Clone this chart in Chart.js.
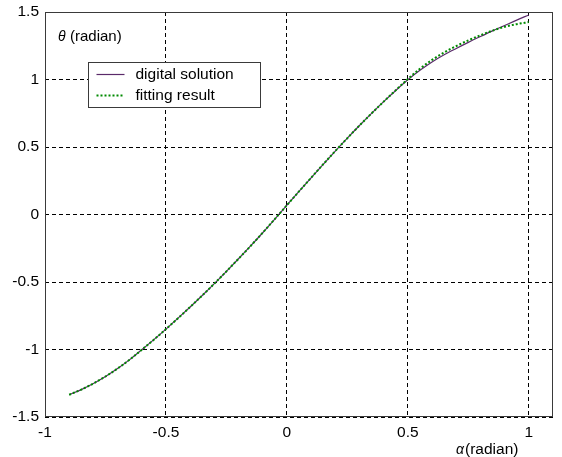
<!DOCTYPE html>
<html>
<head>
<meta charset="utf-8">
<script src="https://cdn.jsdelivr.net/npm/chart.js@4/dist/chart.umd.min.js"></script>
<style>
html,body{margin:0;padding:0;background:#fff;}
#wrap{position:relative;width:562px;height:457px;}
</style>
</head>
<body>
<div id="wrap"><canvas id="c" width="562" height="457"></canvas></div>
<script>
const alphaValues = [-0.9,-0.85,-0.8,-0.75,-0.7,-0.65,-0.6,-0.55,-0.5,-0.45,-0.4,-0.35,-0.3,-0.25,-0.2,-0.15,-0.1,-0.05,0,0.05,0.1,0.15,0.2,0.25,0.3,0.35,0.4,0.45,0.5,0.55,0.6,0.65,0.7,0.75,0.8,0.85,0.9,0.95,1.0];
const digitalSolution = [-1.335,-1.297,-1.252,-1.200,-1.141,-1.075,-1.002,-0.927,-0.849,-0.768,-0.685,-0.600,-0.512,-0.421,-0.328,-0.233,-0.135,-0.034,0.069,0.171,0.272,0.372,0.470,0.566,0.659,0.749,0.836,0.919,0.998,1.068,1.13,1.183,1.23,1.275,1.318,1.36,1.40,1.44,1.478];
const fittingResult = [-1.335,-1.297,-1.252,-1.200,-1.141,-1.075,-1.002,-0.927,-0.849,-0.768,-0.685,-0.600,-0.512,-0.421,-0.328,-0.233,-0.135,-0.034,0.069,0.171,0.272,0.372,0.470,0.566,0.659,0.749,0.836,0.921,1.003,1.08,1.145,1.2,1.248,1.29,1.328,1.362,1.39,1.41,1.425];
const xTicks = [-1,-0.5,0,0.5,1];
const yTicks = [-1.5,-1,-0.5,0,0.5,1,1.5];
const seriesNames = ['digital solution','fitting result'];
const yAxisLabel = ['\u03B8', '(radian)'];
const xAxisLabel = ['\u03B1', '(radian)'];

const FONT = '"Liberation Sans", Arial, sans-serif';
const toPts = (ys) => alphaValues.map((x,i)=>({x:x,y:ys[i]}));

const overlay = {
  id:'overlay',
  afterDraw(chart){
    const ctx = chart.ctx, a = chart.chartArea;
    ctx.save();
    ctx.strokeStyle = '#3a3a3a'; ctx.lineWidth = 1; ctx.setLineDash([]);
    ctx.strokeRect(Math.round(a.left)+0.5, Math.round(a.top)+0.5, Math.round(a.right-a.left)-1, Math.round(a.bottom-a.top)-1);
    ctx.fillStyle = '#000'; ctx.textBaseline = 'middle'; ctx.textAlign='left';
    ctx.font = 'italic 14px ' + FONT;
    ctx.fillText(yAxisLabel[0], a.left + 13, a.top + 25);
    ctx.font = '15px ' + FONT;
    ctx.fillText(yAxisLabel[1], a.left + 25, a.top + 25);
    ctx.font = 'italic 14px ' + FONT;
    ctx.fillText(xAxisLabel[0], a.left + 411, a.bottom + 33);
    ctx.font = '15.5px ' + FONT;
    ctx.fillText(xAxisLabel[1], a.left + 420, a.bottom + 33);
    const lx = a.left + 43.5, ly = a.top + 50.5, lw = 172, lh = 45;
    ctx.fillStyle = '#fff'; ctx.fillRect(lx, ly, lw, lh);
    ctx.strokeStyle = '#3a3a3a'; ctx.lineWidth = 1; ctx.strokeRect(lx, ly, lw, lh);
    const ds = chart.data.datasets;
    const rows = [ly + 12, ly + 33];
    [1,0].forEach((di, r) => {
      const d = ds[di];
      ctx.beginPath();
      ctx.strokeStyle = d.borderColor; ctx.lineWidth = d.borderWidth;
      ctx.setLineDash(d.borderDash || []);
      ctx.moveTo(lx + 8, rows[r]); ctx.lineTo(lx + 36, rows[r]); ctx.stroke();
      ctx.setLineDash([]);
      ctx.fillStyle = '#000'; ctx.font = '15.5px ' + FONT; ctx.textAlign = 'left';
      ctx.fillText(d.label, lx + 47, rows[r]);
    });
    ctx.restore();
  }
};

new Chart(document.getElementById('c'), {
  type:'scatter',
  data:{ datasets:[
    { label: seriesNames[1], data: toPts(fittingResult), showLine:true, cubicInterpolationMode:'monotone', borderColor:'#008a00', borderWidth:2, borderDash:[2,2], pointRadius:0, order:0 },
    { label: seriesNames[0], data: toPts(digitalSolution), showLine:true, cubicInterpolationMode:'monotone', borderColor:'#5a2a6a', borderWidth:1.2, pointRadius:0, order:1 }
  ]},
  options:{
    responsive:false, animation:false,
    layout:{ padding:{ top:12, right:9, left:0, bottom:0 } },
    plugins:{ legend:{display:false}, tooltip:{enabled:false} },
    scales:{
      x:{ type:'linear', min:-1, max:1.1,
        afterBuildTicks(s){ s.ticks = xTicks.map(v=>({value:v})); },
        afterFit(s){ s.height = 40; s.paddingLeft = 0; s.paddingRight = 0; },
        grid:{ color:'#000', lineWidth:1, drawTicks:false },
        border:{ display:false, dash:[4,3] },
        ticks:{ color:'#000', font:{family:FONT, size:15.5}, padding:6, maxRotation:0, callback:v=>String(v) }
      },
      y:{ type:'linear', min:-1.5, max:1.5,
        afterBuildTicks(s){ s.ticks = yTicks.map(v=>({value:v})); },
        afterFit(s){ s.width = 45; s.paddingTop = 0; s.paddingBottom = 0; },
        grid:{ color:'#000', lineWidth:1, drawTicks:false },
        border:{ display:false, dash:[4,3] },
        ticks:{ color:'#000', font:{family:FONT, size:15.5}, padding:6, callback:v=>String(v) }
      }
    }
  },
  plugins:[overlay]
});
</script>
</body>
</html>
